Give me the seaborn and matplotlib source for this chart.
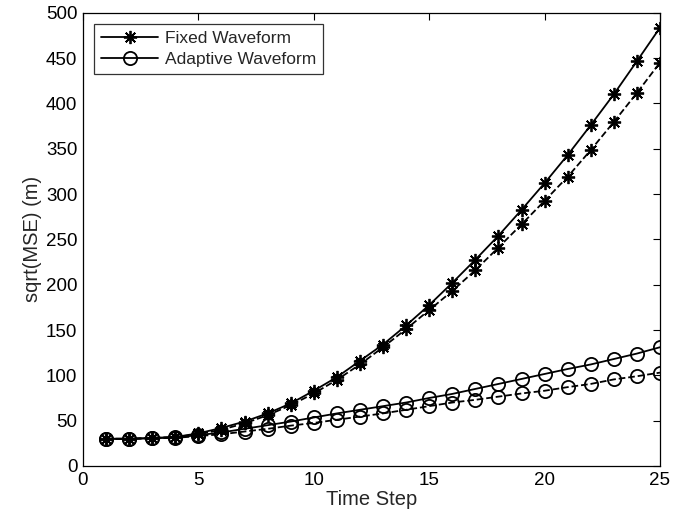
import numpy as np
import pandas as pd
import matplotlib
matplotlib.use("Agg")
import matplotlib.pyplot as plt
import seaborn as sns

time_step = list(range(1, 26))
fixed_solid = [30, 30, 31, 32, 36, 42, 49, 58, 69, 83, 98, 116, 134, 155, 177.5,
               202, 227.5, 254, 282.5, 312, 343, 376, 410, 446.5, 483.5]
fixed_dashed = [30, 30, 31, 32, 35, 40, 47, 56, 67, 80, 95, 112, 131, 151, 172,
                193, 216, 241, 266.5, 292.5, 319, 348.5, 379.5, 411.5, 445]
adaptive_solid = [30, 30, 30.5, 31.5, 34, 37, 41, 45, 49, 53.5, 58, 62, 66, 70, 75,
                  79.5, 85, 90.5, 96, 101.5, 107, 112, 118, 124, 131]
adaptive_dashed = [30, 30, 30.5, 31, 33, 35, 38, 41, 44.5, 47.5, 51, 54.5, 58, 62, 66,
                   70, 73, 76.5, 80, 83, 87, 90.5, 95.5, 99, 103]

sns.set_theme(style="white")
plt.rcParams['font.family'] = ['Liberation Sans', 'DejaVu Sans']

fig = plt.figure(figsize=(6.84, 5.18), dpi=100)
ax = fig.add_axes([0.1213, 0.1004, 0.9649 - 0.1213, 0.9755 - 0.1004])

star = (8, 2, 0)
series = [
    (fixed_solid, "Fixed Waveform", star, "-"),
    (fixed_dashed, None, star, "--"),
    (adaptive_solid, "Adaptive Waveform", "o", "-"),
    (adaptive_dashed, None, "o", "--"),
]
for vals, label, mk, ls in series:
    df = pd.DataFrame({"t": time_step, "v": vals})
    kw = dict(color="black", linewidth=1.3, marker=mk, markersize=9.5,
              markerfacecolor="none", markeredgecolor="black", markeredgewidth=1.3,
              linestyle=ls)
    if ls == "--":
        kw["dashes"] = (6, 3.5)
    sns.lineplot(data=df, x="t", y="v", ax=ax, label=label if label else "_nolegend_",
                 legend=False, **kw)

ax.set_xlim(0, 25)
ax.set_ylim(0, 500)
ax.set_xticks([0, 5, 10, 15, 20, 25])
ax.set_yticks(range(0, 501, 50))
ax.set_xlabel("Time Step", fontsize=14.5, labelpad=1)
ax.set_ylabel("sqrt(MSE) (m)", fontsize=14.5, labelpad=3)
ax.tick_params(direction="in", length=5, width=0.8, top=True, right=True,
               labelsize=13.5, colors="black", pad=4)
for s in ax.spines.values():
    s.set_color("black")
    s.set_linewidth(0.9)
ax.grid(False)

leg = ax.legend(loc="upper left", fontsize=12.5, frameon=True, fancybox=False,
                edgecolor="black", borderpad=0.4, handlelength=3.3,
                labelspacing=0.35, handletextpad=0.35, borderaxespad=0.65)
leg.get_frame().set_linewidth(0.9)

fig.savefig("out.png", dpi=100)
